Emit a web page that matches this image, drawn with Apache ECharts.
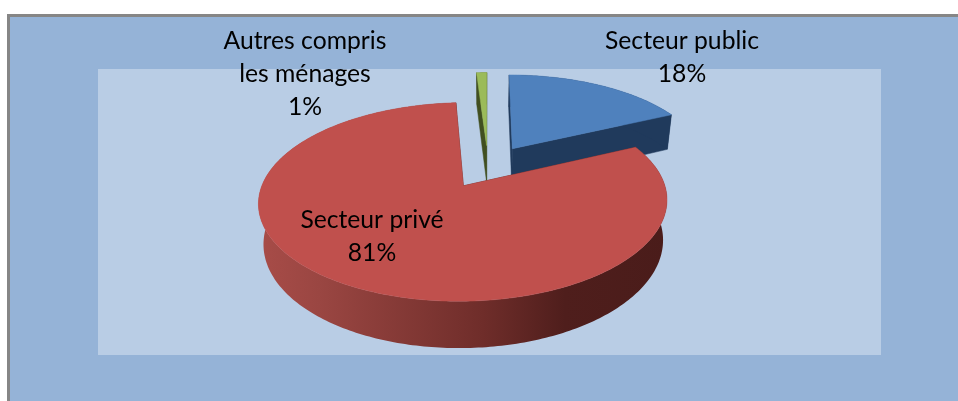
<!DOCTYPE html>
<html><head><meta charset="utf-8">
<style>html,body{margin:0;padding:0;background:#fff}#c{width:958px;height:401px}</style>
<script src="https://cdn.jsdelivr.net/npm/echarts@6/dist/echarts.min.js"></script>
</head><body><div id="c"></div>
<script>
const categories = ["Secteur public", "Secteur privé", "Autres compris\nles ménages"];
const values = [18, 81, 1];
const topColors = ["#4f81bd", "#c0504d", "#9bbb59"];
const wallColors = ["#203a5c", "#4f1e1c", "#414f20"];
const labelCenters = [[682, 58], [372, 237], [305, 74]];
const drawOrder = [2, 0, 1];

// projection parameters of the tilted pie
const view = {cx: 488, cy: 166.5, R: 195, A: 90.5, k: 0.157, D: 38, explode: 0.24, shrink: 0.978};

function project(U, V, lower) {
  const s = 1 / (1 - view.k * V);
  let x = view.cx + view.R * U * s;
  let y = view.cy + view.A * V * s;
  if (lower) {
    x = view.cx + (x - view.cx) * view.shrink;
    y += view.D * s;
  }
  return [x, y];
}
const total = values.reduce((a, b) => a + b, 0);
function sliceAngles(i) {
  let a = 0;
  for (let j = 0; j < i; j++) a += values[j] / total * Math.PI * 2;
  return [a, a + values[i] / total * Math.PI * 2];
}
function slicePoints(i, lower) {
  const [a0, a1] = sliceAngles(i);
  const mid = (a0 + a1) / 2;
  const ox = Math.sin(mid) * view.explode, oy = -Math.cos(mid) * view.explode;
  const n = Math.max(4, Math.ceil((a1 - a0) * 60));
  const arc = [];
  for (let t = 0; t <= n; t++) {
    const a = a0 + (a1 - a0) * t / n;
    arc.push(project(ox + Math.sin(a), oy - Math.cos(a), lower));
  }
  return {apex: project(ox, oy, lower), arc};
}
function renderSlice(params, api) {
  const i = drawOrder[params.dataIndex];
  const up = slicePoints(i, false), lo = slicePoints(i, true);
  const poly = (pts, fill) => ({type: 'polygon', shape: {points: pts}, style: {fill, stroke: fill, lineWidth: 0.5}});
  const last = up.arc.length - 1;
  const children = [
    poly([up.apex, up.arc[0], lo.arc[0], lo.apex], wallColors[i]),
    poly([up.apex, up.arc[last], lo.arc[last], lo.apex], wallColors[i])
  ];
  const outerFill = i === 1 ? {
    type: 'linear', x: 0, y: 0, x2: 1, y2: 0,
    colorStops: [{offset: 0, color: '#a84c48'}, {offset: 0.15, color: '#9a4642'}, {offset: 0.55, color: '#6f2d2a'}, {offset: 0.75, color: '#4f1e1c'}, {offset: 1, color: '#4a1c1a'}]
  } : wallColors[i];
  children.push({type: 'polygon', shape: {points: up.arc.concat(lo.arc.slice().reverse())}, style: {fill: outerFill}});
  children.push(poly([up.apex].concat(up.arc), topColors[i]));
  return {type: 'group', children};
}
function renderLabel(params, api) {
  const i = params.dataIndex;
  return {type: 'text', x: labelCenters[i][0], y: labelCenters[i][1], style: {
    text: categories[i] + "\n" + values[i] + "%", fill: '#000', align: 'center', verticalAlign: 'middle',
    font: '24.7px Lato', lineHeight: 33
  }};
}
const chart = echarts.init(document.getElementById('c'), null, {renderer: 'canvas'});
chart.setOption({
  animation: false,
  backgroundColor: '#fff',
  graphic: [
    {type: 'rect', z: -10, shape: {x: 8.5, y: 15.5, width: 960, height: 400}, style: {fill: '#95b3d7', stroke: '#868686', lineWidth: 3}},
    {type: 'rect', z: -9, shape: {x: 98, y: 69, width: 783, height: 286}, style: {fill: '#b9cde5'}}
  ],
  series: [
    {type: 'custom', coordinateSystem: 'none', renderItem: renderSlice, data: drawOrder.map(i => values[i]), z: 2, silent: true},
    {type: 'custom', coordinateSystem: 'none', renderItem: renderLabel, data: values, z: 3, silent: true}
  ]
});
</script></body></html>
